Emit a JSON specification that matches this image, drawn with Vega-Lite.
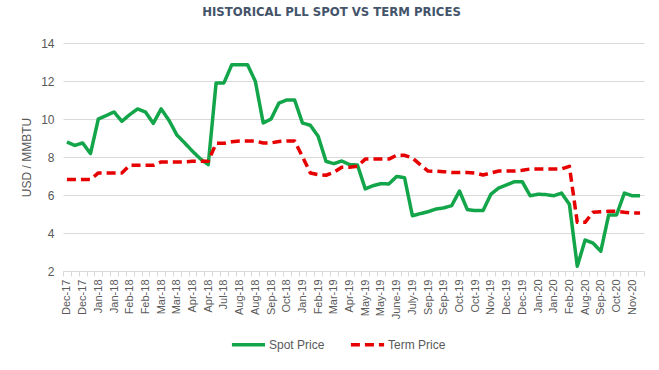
{
  "$schema": "https://vega.github.io/schema/vega-lite/v6.json",
  "width": 581,
  "height": 228,
  "autosize": {"type": "none"},
  "padding": {"left": 63, "top": 43, "right": 15, "bottom": 99},
  "background": "white",
  "title": {
    "text": "HISTORICAL PLL SPOT VS TERM PRICES",
    "font": "Liberation Sans Narrow, DejaVu Sans Condensed, Liberation Sans",
    "fontSize": 13,
    "fontWeight": "bold",
    "color": "#44546A",
    "anchor": "middle",
    "dx": -22,
    "offset": 18
  },
  "data": {
    "values": [
      {"k": "00|Dec-17", "Spot Price": 8.79, "Term Price": 6.82},
      {"k": "01|Dec-17", "Spot Price": 8.61, "Term Price": 6.82},
      {"k": "02|Dec-17", "Spot Price": 8.74, "Term Price": 6.82},
      {"k": "03|Dec-17", "Spot Price": 8.18, "Term Price": 6.82},
      {"k": "04|Jan-18", "Spot Price": 10.0, "Term Price": 7.16},
      {"k": "05|Jan-18", "Spot Price": 10.18, "Term Price": 7.16},
      {"k": "06|Jan-18", "Spot Price": 10.37, "Term Price": 7.16},
      {"k": "07|Jan-18", "Spot Price": 9.88, "Term Price": 7.16},
      {"k": "08|Feb-18", "Spot Price": 10.23, "Term Price": 7.56},
      {"k": "09|Feb-18", "Spot Price": 10.53, "Term Price": 7.56},
      {"k": "10|Feb-18", "Spot Price": 10.37, "Term Price": 7.56},
      {"k": "11|Feb-18", "Spot Price": 9.77, "Term Price": 7.56},
      {"k": "12|Mar-18", "Spot Price": 10.53, "Term Price": 7.74},
      {"k": "13|Mar-18", "Spot Price": 9.93, "Term Price": 7.74},
      {"k": "14|Mar-18", "Spot Price": 9.16, "Term Price": 7.74},
      {"k": "15|Mar-18", "Spot Price": 8.74, "Term Price": 7.74},
      {"k": "16|Apr-18", "Spot Price": 8.3, "Term Price": 7.77},
      {"k": "17|Apr-18", "Spot Price": 7.9, "Term Price": 7.77},
      {"k": "18|Apr-18", "Spot Price": 7.6, "Term Price": 7.77},
      {"k": "19|Apr-18", "Spot Price": 11.9, "Term Price": 8.72},
      {"k": "20|Jul-18", "Spot Price": 11.9, "Term Price": 8.72},
      {"k": "21|Jul-18", "Spot Price": 12.86, "Term Price": 8.8},
      {"k": "22|Aug-18", "Spot Price": 12.86, "Term Price": 8.84},
      {"k": "23|Aug-18", "Spot Price": 12.86, "Term Price": 8.84},
      {"k": "24|Aug-18", "Spot Price": 11.98, "Term Price": 8.84},
      {"k": "25|Aug-18", "Spot Price": 9.79, "Term Price": 8.74},
      {"k": "26|Sep-18", "Spot Price": 10.0, "Term Price": 8.74},
      {"k": "27|Sep-18", "Spot Price": 10.84, "Term Price": 8.82},
      {"k": "28|Oct-18", "Spot Price": 11.0, "Term Price": 8.84},
      {"k": "29|Oct-18", "Spot Price": 11.0, "Term Price": 8.84},
      {"k": "30|Jan-19", "Spot Price": 9.79, "Term Price": 8.02},
      {"k": "31|Jan-19", "Spot Price": 9.67, "Term Price": 7.16},
      {"k": "32|Feb-19", "Spot Price": 9.09, "Term Price": 7.07},
      {"k": "33|Feb-19", "Spot Price": 7.77, "Term Price": 7.04},
      {"k": "34|Mar-19", "Spot Price": 7.65, "Term Price": 7.19},
      {"k": "35|Mar-19", "Spot Price": 7.79, "Term Price": 7.46},
      {"k": "36|Apr-19", "Spot Price": 7.6, "Term Price": 7.46},
      {"k": "37|Apr-19", "Spot Price": 7.58, "Term Price": 7.51},
      {"k": "38|May-19", "Spot Price": 6.32, "Term Price": 7.89},
      {"k": "39|May-19", "Spot Price": 6.49, "Term Price": 7.89},
      {"k": "40|May-19", "Spot Price": 6.6, "Term Price": 7.89},
      {"k": "41|May-19", "Spot Price": 6.58, "Term Price": 7.89},
      {"k": "42|June-19", "Spot Price": 6.98, "Term Price": 8.09},
      {"k": "43|June-19", "Spot Price": 6.91, "Term Price": 8.09},
      {"k": "44|July-19", "Spot Price": 4.91, "Term Price": 7.95},
      {"k": "45|July-19", "Spot Price": 5.02, "Term Price": 7.6},
      {"k": "46|Sep-19", "Spot Price": 5.12, "Term Price": 7.26},
      {"k": "47|Sep-19", "Spot Price": 5.26, "Term Price": 7.25},
      {"k": "48|Sep-19", "Spot Price": 5.32, "Term Price": 7.23},
      {"k": "49|Sep-19", "Spot Price": 5.44, "Term Price": 7.19},
      {"k": "50|Oct-19", "Spot Price": 6.21, "Term Price": 7.19},
      {"k": "51|Oct-19", "Spot Price": 5.23, "Term Price": 7.19},
      {"k": "52|Oct-19", "Spot Price": 5.18, "Term Price": 7.16},
      {"k": "53|Oct-19", "Spot Price": 5.18, "Term Price": 7.05},
      {"k": "54|Nov-19", "Spot Price": 6.04, "Term Price": 7.16},
      {"k": "55|Nov-19", "Spot Price": 6.37, "Term Price": 7.26},
      {"k": "56|Dec-19", "Spot Price": 6.53, "Term Price": 7.26},
      {"k": "57|Dec-19", "Spot Price": 6.7, "Term Price": 7.26},
      {"k": "58|Dec-19", "Spot Price": 6.7, "Term Price": 7.3},
      {"k": "59|Dec-19", "Spot Price": 5.96, "Term Price": 7.37},
      {"k": "60|Jan-20", "Spot Price": 6.04, "Term Price": 7.37},
      {"k": "61|Jan-20", "Spot Price": 6.02, "Term Price": 7.37},
      {"k": "62|Jan-20", "Spot Price": 5.96, "Term Price": 7.37},
      {"k": "63|Jan-20", "Spot Price": 6.1, "Term Price": 7.37},
      {"k": "64|Feb-20", "Spot Price": 5.51, "Term Price": 7.51},
      {"k": "65|Feb-20", "Spot Price": 2.25, "Term Price": 4.56},
      {"k": "66|Aug-20", "Spot Price": 3.63, "Term Price": 4.56},
      {"k": "67|Aug-20", "Spot Price": 3.47, "Term Price": 5.09},
      {"k": "68|Sep-20", "Spot Price": 3.04, "Term Price": 5.12},
      {"k": "69|Sep-20", "Spot Price": 4.95, "Term Price": 5.14},
      {"k": "70|Oct-20", "Spot Price": 4.95, "Term Price": 5.14},
      {"k": "71|Oct-20", "Spot Price": 6.1, "Term Price": 5.09},
      {"k": "72|Nov-20", "Spot Price": 5.96, "Term Price": 5.05},
      {"k": "73|Nov-20", "Spot Price": 5.96, "Term Price": 5.05}
    ]
  },
  "transform": [
    {"fold": ["Spot Price", "Term Price"], "as": ["series", "price"]}
  ],
  "mark": {"type": "line", "strokeWidth": 3.5, "strokeJoin": "round"},
  "encoding": {
    "x": {
      "field": "k",
      "type": "ordinal",
      "sort": "ascending",
      "scale": {"type": "band", "paddingInner": 0, "paddingOuter": 0},
      "axis": {
        "title": null,
        "labelExpr": "isString(datum.value) && toNumber(substring(datum.value, 0, 2)) % 2 == 0 ? substring(datum.value, 3) : ''",
        "labelAngle": -90,
        "labelOverlap": false,
        "labelFont": "Liberation Sans",
        "labelFontSize": 11,
        "labelColor": "#595959",
        "labelPadding": 3,
        "tickBand": "extent",
        "tickSize": 5,
        "tickColor": "#d9d9d9",
        "domainColor": "#d9d9d9",
        "grid": false
      }
    },
    "y": {
      "field": "price",
      "type": "quantitative",
      "scale": {"domain": [2, 14], "nice": false, "zero": false},
      "axis": {
        "title": "USD / MMBTU",
        "titleFont": "Liberation Sans",
        "titleFontSize": 12,
        "titleFontWeight": "normal",
        "titleColor": "#595959",
        "titlePadding": 7,
        "values": [2, 4, 6, 8, 10, 12, 14],
        "labelFont": "Liberation Sans",
        "labelFontSize": 12,
        "labelColor": "#595959",
        "labelPadding": 9,
        "ticks": false,
        "domain": false,
        "gridColor": "#d9d9d9",
        "gridWidth": 1
      }
    },
    "color": {
      "field": "series",
      "type": "nominal",
      "scale": {"domain": ["Spot Price", "Term Price"], "range": ["#13a54a", "#e60000"]},
      "legend": {
        "title": null,
        "orient": "none",
        "legendX": 167,
        "legendY": 283,
        "direction": "horizontal",
        "symbolType": "stroke",
        "symbolSize": 1100,
        "symbolStrokeWidth": 3.5,
        "labelFont": "Liberation Sans",
        "labelFontSize": 12,
        "labelColor": "#595959",
        "labelOffset": 2,
        "columnPadding": 18
      }
    },
    "strokeDash": {
      "field": "series",
      "type": "nominal",
      "scale": {"domain": ["Spot Price", "Term Price"], "range": [[1, 0], [9, 5]]},
      "legend": null
    }
  },
  "config": {"view": {"stroke": null}}
}
